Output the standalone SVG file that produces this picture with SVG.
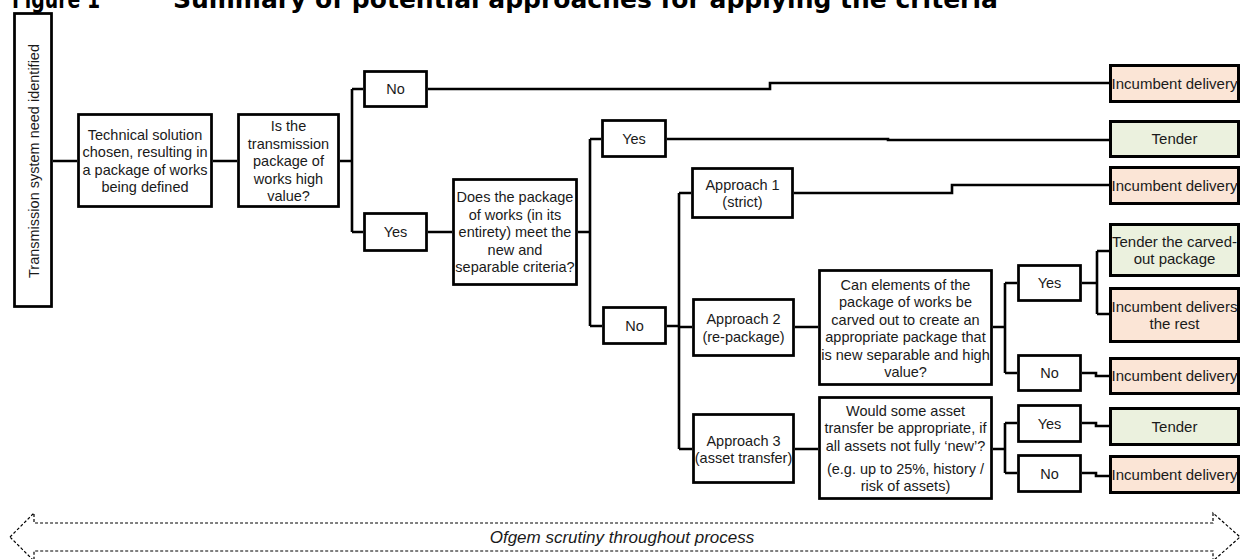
<svg xmlns="http://www.w3.org/2000/svg" width="1247" height="559" viewBox="0 0 1247 559">
<style>
.bx{fill:#fff;stroke:#000;stroke-width:2.75}
.inc{fill:#FBE5D6;stroke:#000;stroke-width:3}
.ten{fill:#EBF1DE;stroke:#000;stroke-width:3}
.t{font-family:"Liberation Sans",Arial,sans-serif;font-size:14.5px;fill:#1a1a1a;text-anchor:middle}
.r{font-size:15px}
.ln{fill:none;stroke:#000;stroke-width:2.6}
.title{font-family:"DejaVu Sans",Verdana,sans-serif;font-weight:bold;font-size:25px;fill:#000}
</style>
<rect width="1247" height="559" fill="#fff"/>
<g id="title">
<text class="title" x="12" y="8" textLength="88" lengthAdjust="spacingAndGlyphs">Figure 1</text>
<text class="title" x="173" y="8">Summary of potential approaches for applying the criteria</text>
</g>
<g id="connectors">
<path class="ln" d="M53,161H77M213,161H237M340,161H352M352,89V232M352,89H363M352,232H363"/>
<path class="ln" d="M428,89H770V83H1109"/>
<path class="ln" d="M428,232H452M578,232H590M590,139V326M590,139H601M590,326H602"/>
<path class="ln" d="M667,139H888V140H1109"/>
<path class="ln" d="M667,326H679M679,193V449M679,193H691M679,327H692M679,449H692"/>
<path class="ln" d="M794,193H952V185H1109"/>
<path class="ln" d="M795,327H818M993,327H1005M1005,283V373M1005,283H1017M1005,373H1017"/>
<path class="ln" d="M1082,283H1097M1097,251V314M1097,251H1109M1097,314H1110"/>
<path class="ln" d="M1082,373H1096V376H1109"/>
<path class="ln" d="M795,449H818M993,449H1005M1005,423V473M1005,423H1017M1005,473H1017"/>
<path class="ln" d="M1082,423H1096V426H1109M1082,473H1096V476H1109"/>
</g>
<g id="n-trans"><rect class="bx" x="14.5" y="13.5" width="37" height="293"/>
<text class="t" transform="translate(38.5,161) rotate(-90)">Transmission system need identified</text></g>
<g id="n-tech"><rect class="bx" x="78.5" y="114.5" width="133" height="92"/>
<text class="t"><tspan x="145" y="139.5">Technical solution</tspan><tspan x="145" y="157">chosen, resulting in</tspan><tspan x="145" y="174.5">a package of works</tspan><tspan x="145" y="192">being defined</tspan></text></g>
<g id="n-isthe"><rect class="bx" x="238.5" y="114.5" width="100" height="92"/>
<text class="t"><tspan x="288.5" y="131">Is the</tspan><tspan x="288.5" y="148.5">transmission</tspan><tspan x="288.5" y="166">package of</tspan><tspan x="288.5" y="183.5">works high</tspan><tspan x="288.5" y="201">value?</tspan></text></g>
<g id="n-no1"><rect class="bx" x="364.5" y="71.5" width="62" height="35"/><text class="t" x="395.5" y="94">No</text></g>
<g id="n-yes1"><rect class="bx" x="364.5" y="213.5" width="62" height="37"/><text class="t" x="395.5" y="237">Yes</text></g>
<g id="n-does"><rect class="bx" x="453.5" y="179.5" width="123" height="105"/>
<text class="t"><tspan x="515" y="202">Does the package</tspan><tspan x="515" y="219.5">of works (in its</tspan><tspan x="515" y="237">entirety) meet the</tspan><tspan x="515" y="254.5">new and</tspan><tspan x="515" y="272">separable criteria?</tspan></text></g>
<g id="n-yes2"><rect class="bx" x="602.5" y="120.5" width="63" height="36"/><text class="t" x="634" y="143.5">Yes</text></g>
<g id="n-no2"><rect class="bx" x="603.5" y="307.5" width="62" height="36"/><text class="t" x="634.5" y="330.5">No</text></g>
<g id="n-ap1"><rect class="bx" x="692.5" y="168.5" width="100" height="49"/>
<text class="t"><tspan x="742.5" y="189.5">Approach 1</tspan><tspan x="742.5" y="207">(strict)</tspan></text></g>
<g id="n-ap2"><rect class="bx" x="693.5" y="299.5" width="100" height="56"/>
<text class="t"><tspan x="743.5" y="324">Approach 2</tspan><tspan x="743.5" y="341.5">(re-package)</tspan></text></g>
<g id="n-ap3"><rect class="bx" x="693.5" y="414.5" width="100" height="68"/>
<text class="t"><tspan x="743.5" y="445.5">Approach 3</tspan><tspan x="743.5" y="463">(asset transfer)</tspan></text></g>
<g id="n-can"><rect class="bx" x="819.5" y="270.5" width="172" height="114"/>
<text class="t"><tspan x="905.5" y="289.5">Can elements of the</tspan><tspan x="905.5" y="307">package of works be</tspan><tspan x="905.5" y="324.5">carved out to create an</tspan><tspan x="905.5" y="342">appropriate package that</tspan><tspan x="905.5" y="359.5">is new separable and high</tspan><tspan x="905.5" y="377">value?</tspan></text></g>
<g id="n-would"><rect class="bx" x="819.5" y="397.5" width="172" height="101"/>
<text class="t"><tspan x="905.5" y="415.5">Would some asset</tspan><tspan x="905.5" y="433">transfer be appropriate, if</tspan><tspan x="905.5" y="450.5">all assets not fully ‘new’?</tspan><tspan x="905.5" y="473.5">(e.g. up to 25%, history /</tspan><tspan x="905.5" y="491">risk of assets)</tspan></text></g>
<g id="n-yes3"><rect class="bx" x="1018.5" y="265.5" width="62" height="35"/><text class="t" x="1049.5" y="288">Yes</text></g>
<g id="n-no3"><rect class="bx" x="1018.5" y="355.5" width="62" height="35"/><text class="t" x="1049.5" y="378">No</text></g>
<g id="n-yes4"><rect class="bx" x="1018.5" y="405.5" width="62" height="36"/><text class="t" x="1049.5" y="428.5">Yes</text></g>
<g id="n-no4"><rect class="bx" x="1018.5" y="455.5" width="62" height="36"/><text class="t" x="1049.5" y="478.5">No</text></g>
<g id="r-inc1"><rect class="inc" x="1110.5" y="65.5" width="128" height="36"/><text class="t r" x="1174.5" y="88.5">Incumbent delivery</text></g>
<g id="r-ten1"><rect class="ten" x="1110.5" y="121.5" width="128" height="35"/><text class="t r" x="1174.5" y="144">Tender</text></g>
<g id="r-inc2"><rect class="inc" x="1110.5" y="167.5" width="128" height="36"/><text class="t r" x="1174.5" y="190.5">Incumbent delivery</text></g>
<g id="r-tcarv"><rect class="ten" x="1110.5" y="224.5" width="128" height="51"/>
<text class="t r"><tspan x="1174.5" y="246.5">Tender the carved-</tspan><tspan x="1174.5" y="264">out package</tspan></text></g>
<g id="r-irest"><rect class="inc" x="1110.5" y="288.5" width="128" height="53"/>
<text class="t r"><tspan x="1174.5" y="311.5">Incumbent delivers</tspan><tspan x="1174.5" y="329">the rest</tspan></text></g>
<g id="r-inc3"><rect class="inc" x="1110.5" y="358.5" width="128" height="35"/><text class="t r" x="1174.5" y="381">Incumbent delivery</text></g>
<g id="r-ten2"><rect class="ten" x="1110.5" y="408.5" width="128" height="36"/><text class="t r" x="1174.5" y="431.5">Tender</text></g>
<g id="r-inc4"><rect class="inc" x="1110.5" y="456.5" width="128" height="36"/><text class="t r" x="1174.5" y="479.5">Incumbent delivery</text></g>
<g id="scrutiny">
<path d="M10,537L34,513V523H1213V513L1240,537L1213,561V551H34V561Z" fill="#fff" stroke="#000" stroke-width="1.2" stroke-dasharray="3,2"/>
<text class="t" x="622" y="543" style="font-style:italic;font-size:17px">Ofgem scrutiny throughout process</text>
</g>
</svg>
